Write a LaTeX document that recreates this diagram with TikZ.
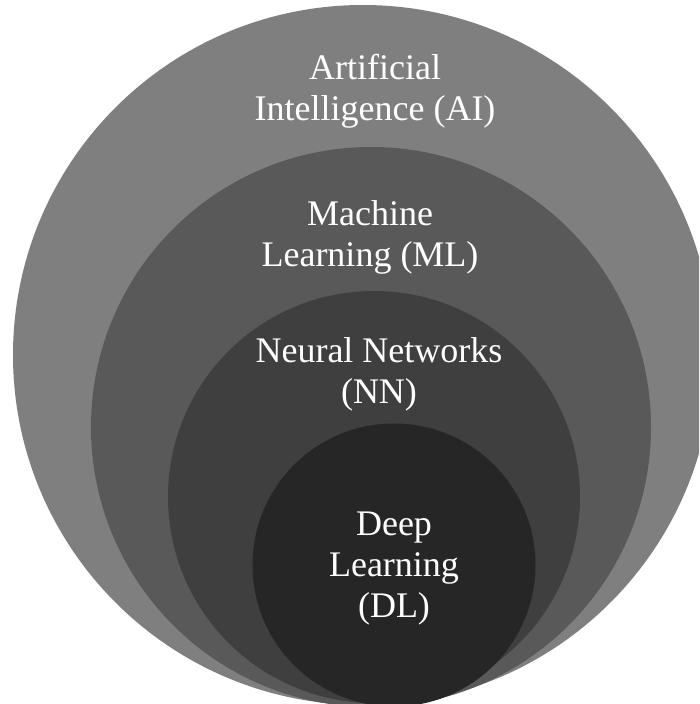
\documentclass[tikz,border=0pt]{standalone}
\usepackage{fontspec}
\setmainfont{Liberation Serif}
\usepackage{tikz}
\usetikzlibrary{positioning}
\definecolor{aigray}{HTML}{7F7F7F}
\definecolor{mlgray}{HTML}{595959}
\definecolor{nngray}{HTML}{3F3F3F}
\definecolor{dlgray}{HTML}{262626}
\tikzset{
  ring/.style={circle,inner sep=0pt,draw=none,minimum size=#1},
  ringlabel/.style={text=white,align=center,font=\fontsize{36}{41}\selectfont}
}
\begin{document}
\begin{tikzpicture}[x=1pt,y=-1pt]
  \useasboundingbox (0,0) rectangle (699,704);
  \clip (0,0) rectangle (699,704);
  % nested fields, all resting on the bottom edge
  \node[ring=700pt,fill=aigray] (ai) at (363,355) {};
  \node[ring=560pt,fill=mlgray] (ml) at (371,427) {};
  \node[ring=412pt,fill=nngray] (nn) at (374,497) {};
  \node[ring=283pt,fill=dlgray] (dl) at (394,565) {};
  % labels
  \node[ringlabel] (ailabel) at (375,91) {Artificial\\Intelligence (AI)};
  \node[ringlabel] (mllabel) at (370,237) {Machine\\Learning (ML)};
  \node[ringlabel] (nnlabel) at (379,374) {Neural Networks\\(NN)};
  \node[ringlabel] (dllabel) at (394,569) {Deep\\Learning\\(DL)};
\end{tikzpicture}
\end{document}
